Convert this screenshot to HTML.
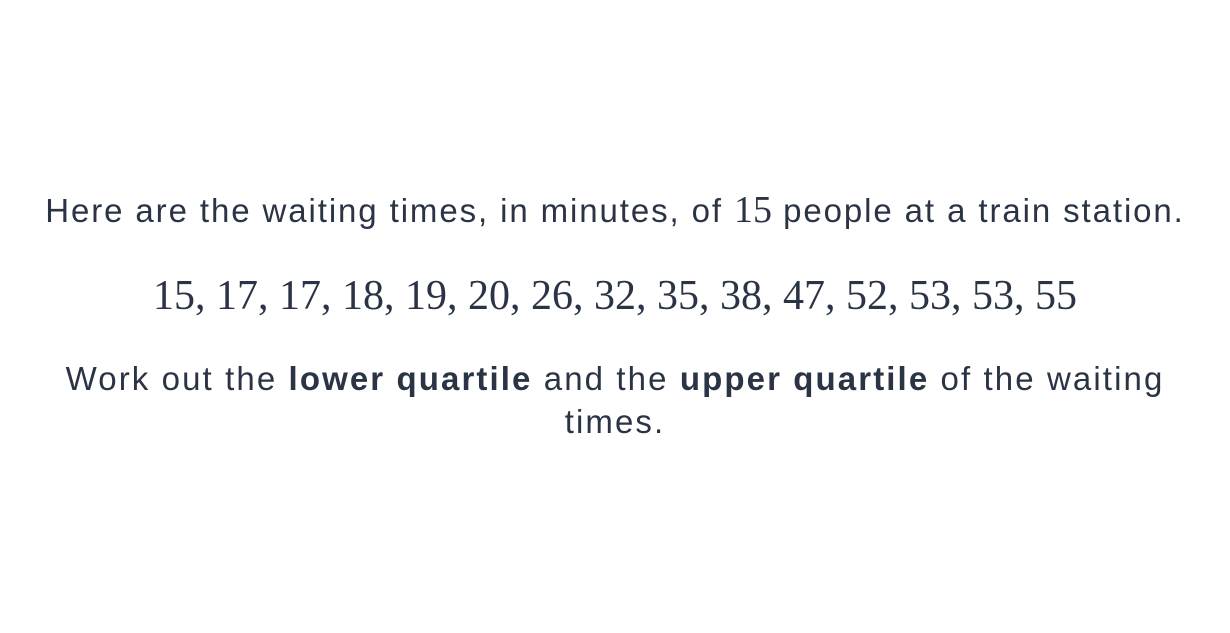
<!DOCTYPE html>
<html>
<head>
<meta charset="utf-8">
<style>
  html, body { margin: 0; padding: 0; background: #ffffff; }
  body { width: 1230px; height: 633px; position: relative; overflow: hidden; color: #2b3445; }
  .line { position: absolute; left: 0; width: 1230px; text-align: center; white-space: nowrap; }
  .sans { font-family: "Liberation Sans", sans-serif; font-size: 33px; letter-spacing: 1.9px; }
  .serif { font-family: "Liberation Serif", serif; letter-spacing: 0; }
  #intro { top: 188px; }
  #data { top: 272px; font-size: 42px; }
  #task1 { top: 360px; letter-spacing: 2.1px; }
  #task2 { top: 403px; letter-spacing: 2.1px; }
  b { font-weight: bold; }
</style>
</head>
<body>
  <div id="intro" class="line sans">Here are the waiting times, in minutes, of <span class="serif" style="font-size:38px">15</span> people at a train station.</div>
  <div id="data" class="line serif">15, 17, 17, 18, 19, 20, 26, 32, 35, 38, 47, 52, 53, 53, 55</div>
  <div id="task1" class="line sans">Work out the <b>lower quartile</b> and the <b>upper quartile</b> of the waiting</div>
  <div id="task2" class="line sans">times.</div>
</body>
</html>
